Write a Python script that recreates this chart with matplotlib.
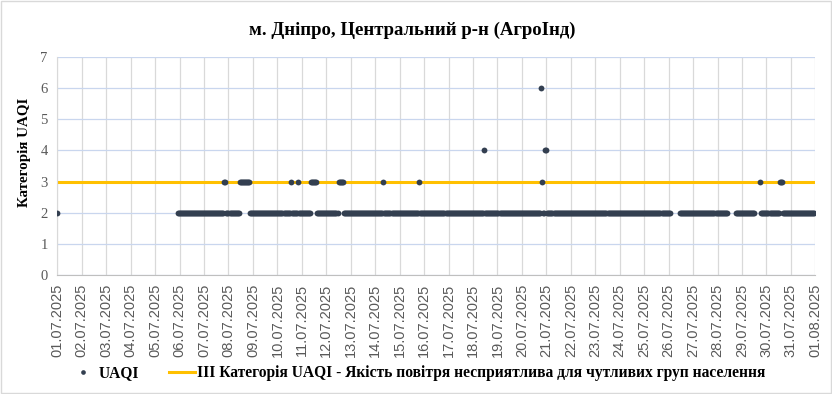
import matplotlib
matplotlib.use("Agg")
import matplotlib.pyplot as plt
import matplotlib.dates as mdates
from matplotlib.patches import Rectangle
import numpy as np

# періоди з вимірами (за замовчуванням категорія 2), погодинно
data_periods = [
    ("2025-07-01T00", "2025-07-01T00"),
    ("2025-07-05T22", "2025-07-26T01"),
    ("2025-07-26T11", "2025-07-28T09"),
    ("2025-07-28T18", "2025-07-29T12"),
    ("2025-07-29T18", "2025-07-31T23"),
]
# години з вищою категорією
cat3_periods = [
    ("2025-07-07T20", "2025-07-07T21"),
    ("2025-07-08T11", "2025-07-08T20"),
    ("2025-07-10T13", "2025-07-10T13"),
    ("2025-07-10T20", "2025-07-10T20"),
    ("2025-07-11T09", "2025-07-11T14"),
    ("2025-07-12T12", "2025-07-12T16"),
    ("2025-07-14T08", "2025-07-14T08"),
    ("2025-07-15T19", "2025-07-15T19"),
    ("2025-07-20T20", "2025-07-20T20"),
    ("2025-07-29T18", "2025-07-29T18"),
    ("2025-07-30T13", "2025-07-30T15"),
]
cat4_periods = [
    ("2025-07-18T11", "2025-07-18T11"),
    ("2025-07-20T23", "2025-07-21T00"),
]
cat6_periods = [
    ("2025-07-20T19", "2025-07-20T19"),
]
base_category = 2
threshold = 3
x_start = "2025-07-01T00"
x_end = "2025-08-01T00"

title = "м. Дніпро, Центральний р-н (АгроІнд)"
ylabel = "Категорія UAQI"
series_name = "UAQI"
threshold_name = "ІІІ Категорія UAQI - Якість повітря несприятлива для чутливих груп населення"


def hours(a, b):
    return np.arange(np.datetime64(a, "h"), np.datetime64(b, "h") + 1)


# збираємо погодинний ряд
t_all = hours(x_start, x_end)
values = np.full(len(t_all), np.nan)
for a, b in data_periods:
    values[np.isin(t_all, hours(a, b))] = base_category
for cat, periods in ((3, cat3_periods), (4, cat4_periods), (6, cat6_periods)):
    for a, b in periods:
        values[np.isin(t_all, hours(a, b))] = cat

mask = ~np.isnan(values)
t_plot = t_all[mask].astype("datetime64[s]").astype(object)
v_plot = values[mask]

fig = plt.figure(figsize=(8.32, 3.94), dpi=100)
ax = fig.add_axes([0.0689, 0.3013, 0.9111, 0.5547])

x0 = np.datetime64(x_start, "s").astype(object)
x1 = np.datetime64(x_end, "s").astype(object)

ax.plot([x0, x1], [threshold, threshold], color="#ffc000", lw=2.2, zorder=2,
        label=threshold_name)
ax.plot(t_plot, v_plot, "o", ms=4.2, color="#333f50", mec="none", zorder=3,
        label=series_name)

ax.set_xlim(x0, x1)
ax.set_ylim(0, 7)
ax.set_yticks(range(0, 8))
ax.xaxis.set_major_locator(mdates.DayLocator())
ax.xaxis.set_major_formatter(mdates.DateFormatter("%d.%m.%Y"))

ax.grid(axis="x", color="#d9d9d9", lw=0.9, zorder=0)
ax.grid(axis="y", color="#c9d6ee", lw=0.9, zorder=0)
ax.set_axisbelow(True)
for s in ["top", "right"]:
    ax.spines[s].set_visible(False)
ax.spines["left"].set_color("#d9d9d9")
ax.spines["bottom"].set_color("#bfbfbf")
ax.tick_params(length=0)
ax.tick_params(axis="x", pad=6)
ax.tick_params(axis="y", pad=7)

for lab in ax.get_xticklabels():
    lab.set_rotation(90)
    lab.set_fontfamily("Liberation Sans")
    lab.set_fontsize(10.5)
    lab.set_color("#595959")
for lab in ax.get_yticklabels():
    lab.set_fontfamily("Liberation Serif")
    lab.set_fontsize(10.5)
    lab.set_color("#595959")

fig.text(0.495, 0.922, title, ha="center", va="center", fontsize=13.5,
         fontweight="bold", family="Liberation Serif")
fig.text(0.029, 0.614, ylabel, rotation=90, ha="center", va="center",
         fontsize=10.8, fontweight="bold", family="Liberation Serif")

h, l = ax.get_legend_handles_labels()
leg = fig.legend(h[::-1], l[::-1], loc="center", bbox_to_anchor=(0.502, 0.053),
                 ncol=2, frameon=False, handlelength=1.7, columnspacing=1.9,
                 handletextpad=0.15, markerscale=0.8,
                 prop={"family": "Liberation Serif", "weight": "bold", "size": 11.2})

fig.patches.append(Rectangle((0.0015, 0.002), 0.997, 0.995, transform=fig.transFigure,
                             fill=False, edgecolor="#d9d9d9", lw=1))

fig.savefig("out.png", dpi=100)
